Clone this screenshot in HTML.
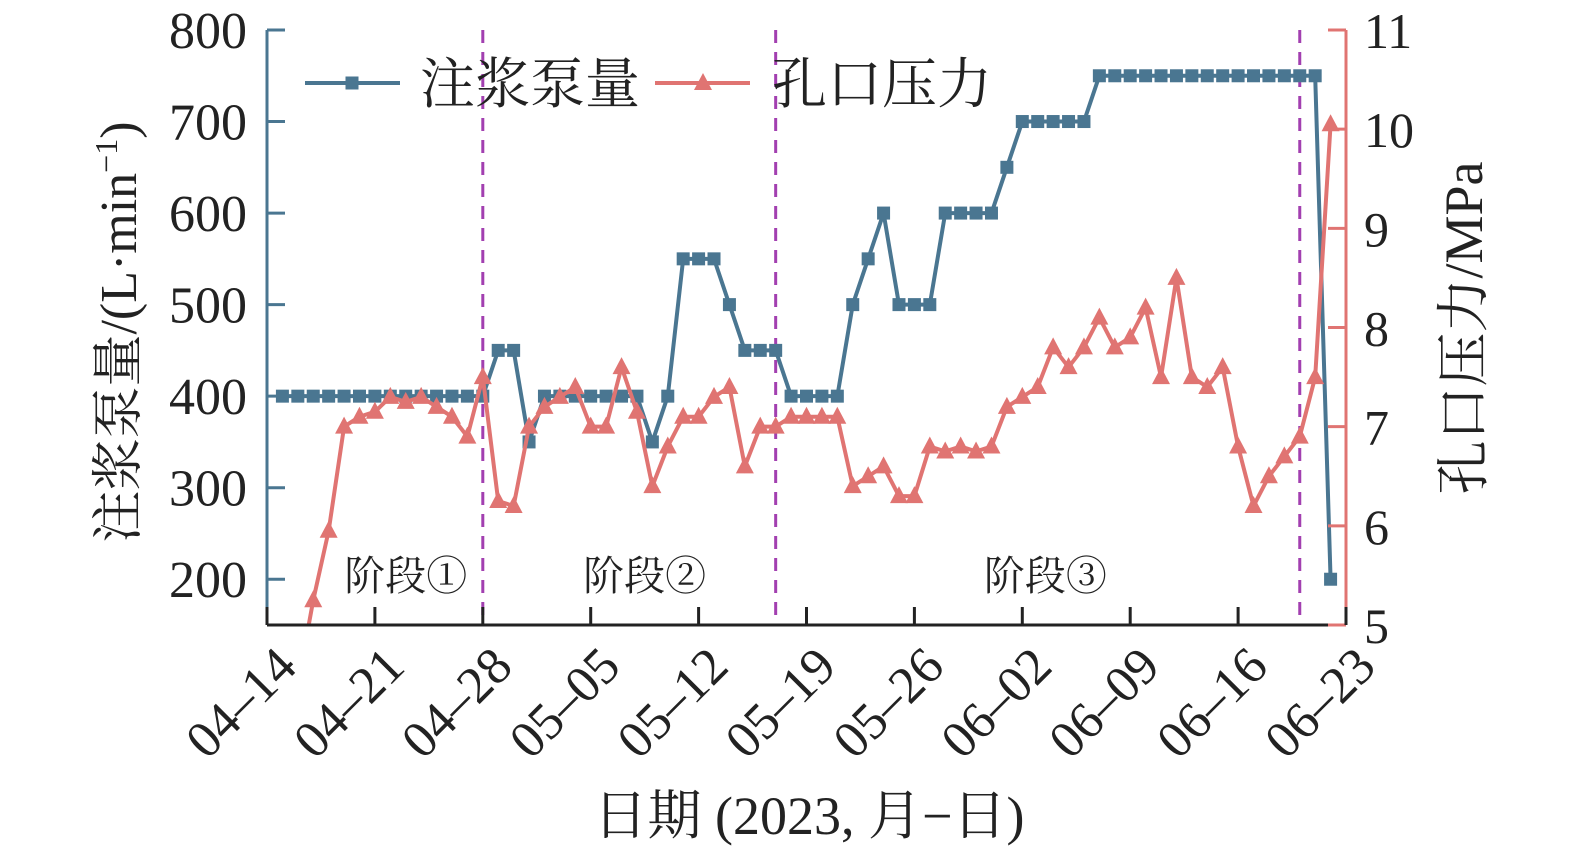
<!DOCTYPE html>
<html><head><meta charset="utf-8"><style>
body{margin:0;background:#fff}
svg{display:block}
text{font-family:"Liberation Serif","Noto Serif CJK SC","Noto Sans CJK SC",serif;fill:#222}
</style></head><body>
<svg id="c" width="1575" height="852" xmlns="http://www.w3.org/2000/svg">
<defs><clipPath id="clip"><rect x="267" y="20" width="1079" height="605"/></clipPath></defs>
<g id="plot" clip-path="url(#clip)"></g>
<g id="axes"></g>
</svg>
<script>
const xTicks=["04–14","04–21","04–28","05–05","05–12","05–19","05–26","06–02","06–09","06–16","06–23"];
const leftTicks=[200,300,400,500,600,700,800];
const rightTicks=[5,6,7,8,9,10,11];
const pumpDays=[1,2,3,4,5,6,7,8,9,10,11,12,13,14,15,16,17,18,19,20,21,22,23,24,25,26,27,28,29,30,31,32,33,34,35,36,37,38,39,40,41,42,43,44,45,46,47,48,49,50,51,52,53,54,55,56,57,58,59,60,61,62,63,64,65,66,67,68,69];
const pumpVals=[400,400,400,400,400,400,400,400,400,400,400,400,400,400,450,450,350,400,400,400,400,400,400,400,350,400,550,550,550,500,450,450,450,400,400,400,400,500,550,600,500,500,500,600,600,600,600,650,700,700,700,700,700,750,750,750,750,750,750,750,750,750,750,750,750,750,750,750,200];
const presDays=[2,3,4,5,6,7,8,9,10,11,12,13,14,15,16,17,18,19,20,21,22,23,24,25,26,27,28,29,30,31,32,33,34,35,36,37,38,39,40,41,42,43,44,45,46,47,48,49,50,51,52,53,54,55,56,57,58,59,60,61,62,63,64,65,66,67,68,69];
const presVals=[4.4,5.25,5.95,7.0,7.1,7.15,7.3,7.25,7.3,7.2,7.1,6.9,7.5,6.25,6.2,7.0,7.2,7.3,7.4,7.0,7.0,7.6,7.15,6.4,6.8,7.1,7.1,7.3,7.4,6.6,7.0,7.0,7.1,7.1,7.1,7.1,6.4,6.5,6.6,6.3,6.3,6.8,6.75,6.8,6.75,6.8,7.2,7.3,7.4,7.8,7.6,7.8,8.1,7.8,7.9,8.2,7.5,8.5,7.5,7.4,7.6,6.8,6.2,6.5,6.7,6.9,7.5,10.05];
const stageLines=[14,33,67];
const stageLabels=["阶段①","阶段②","阶段③"];
const stageX=[9,24.5,50.5];

const X0=267,X1=1346,Y0=30,Y1=625;
const xs=d=>X0+(X1-X0)*d/70;
const yl=v=>Y1-(Y1-Y0)*(v-150)/650;
const yr=v=>Y1-(Y1-Y0)*(v-5)/6;
const NS="http://www.w3.org/2000/svg";
function mk(tag,attrs,parent){const e=document.createElementNS(NS,tag);for(const k in attrs)e.setAttribute(k,attrs[k]);parent.appendChild(e);return e;}
const plot=document.getElementById('plot'),axes=document.getElementById('axes');
const BLUE="#4a7691",RED="#e07472",PUR="#a23fb0";

stageLines.forEach((d,i)=>{const l=mk('line',{x1:xs(d),x2:xs(d),y1:Y0,y2:Y1,stroke:PUR,'stroke-width':3,'stroke-dasharray':'13,9'},plot);

});
stageLabels.forEach((s,i)=>{const t=mk('text',{x:xs(stageX[i]),y:590,'font-size':41,'text-anchor':'middle'},axes);t.textContent=s;

});

let p=pumpDays.map((d,i)=>xs(d)+','+yl(pumpVals[i])).join(' ');
const pl=mk('polyline',{points:p,fill:'none',stroke:BLUE,'stroke-width':4},plot);


pumpDays.forEach((d,i)=>{const r=mk('rect',{x:xs(d)-6.5,y:yl(pumpVals[i])-6.5,width:13,height:13,fill:BLUE},plot);

});
p=presDays.map((d,i)=>xs(d)+','+yr(presVals[i])).join(' ');
const rl=mk('polyline',{points:p,fill:'none',stroke:RED,'stroke-width':4},plot);


presDays.forEach((d,i)=>{const x=xs(d),y=yr(presVals[i]);const t=mk('polygon',{points:`${x},${y-10} ${x-9},${y+7} ${x+9},${y+7}`,fill:RED},plot);

});

let a=mk('line',{x1:X0,x2:X0,y1:Y0,y2:Y1,stroke:BLUE,'stroke-width':3},axes);
a=mk('line',{x1:X1,x2:X1,y1:Y0,y2:Y1,stroke:RED,'stroke-width':3},axes);
a=mk('line',{x1:X0,x2:X1,y1:Y1,y2:Y1,stroke:'#222','stroke-width':3},axes);
leftTicks.forEach(v=>{mk('line',{x1:X0,x2:X0+18,y1:yl(v),y2:yl(v),stroke:BLUE,'stroke-width':3},axes);
const t=mk('text',{x:247,y:yl(v)+18,'font-size':52,'text-anchor':'end'},axes);t.textContent=v;

});
rightTicks.forEach(v=>{mk('line',{x1:X1,x2:X1-18,y1:yr(v),y2:yr(v),stroke:RED,'stroke-width':3},axes);
const t=mk('text',{x:1364,y:yr(v)+18,'font-size':50},axes);t.textContent=v;

});
xTicks.forEach((s,i)=>{const x=xs(i*7);mk('line',{x1:x,x2:x,y1:Y1,y2:Y1-18,stroke:'#222','stroke-width':3},axes);
const t=mk('text',{x:x+32,y:Y1+44,'font-size':52,'text-anchor':'end',transform:`rotate(-45 ${x+32} ${Y1+44})`},axes);t.textContent=s;

});

let t=mk('text',{x:0,y:0,'font-size':52,'text-anchor':'middle',transform:'translate(136 332) rotate(-90)'},axes);
t.innerHTML='注浆泵量/(L·min<tspan dy="-19" font-size="32">−1</tspan><tspan dy="19">)</tspan>';

t=mk('text',{x:0,y:0,'font-size':54,'text-anchor':'middle',transform:'translate(1482 328) rotate(-90)'},axes);t.textContent='孔口压力/MPa';

t=mk('text',{x:809,y:834,'font-size':54,'text-anchor':'middle'},axes);t.textContent='日期 (2023, 月−日)';


const lg=mk('g',{},axes);
mk('line',{x1:305,x2:400,y1:83,y2:83,stroke:BLUE,'stroke-width':4},lg);
mk('rect',{x:345.5,y:76.5,width:13,height:13,fill:BLUE},lg);
t=mk('text',{x:420,y:103,'font-size':55},lg);t.textContent='注浆泵量';

mk('line',{x1:655,x2:750,y1:83,y2:83,stroke:RED,'stroke-width':4},lg);
mk('polygon',{points:'703,73 694,90 712,90',fill:RED},lg);
t=mk('text',{x:772,y:103,'font-size':55},lg);t.textContent='孔口压力';

</script>
</body></html>
